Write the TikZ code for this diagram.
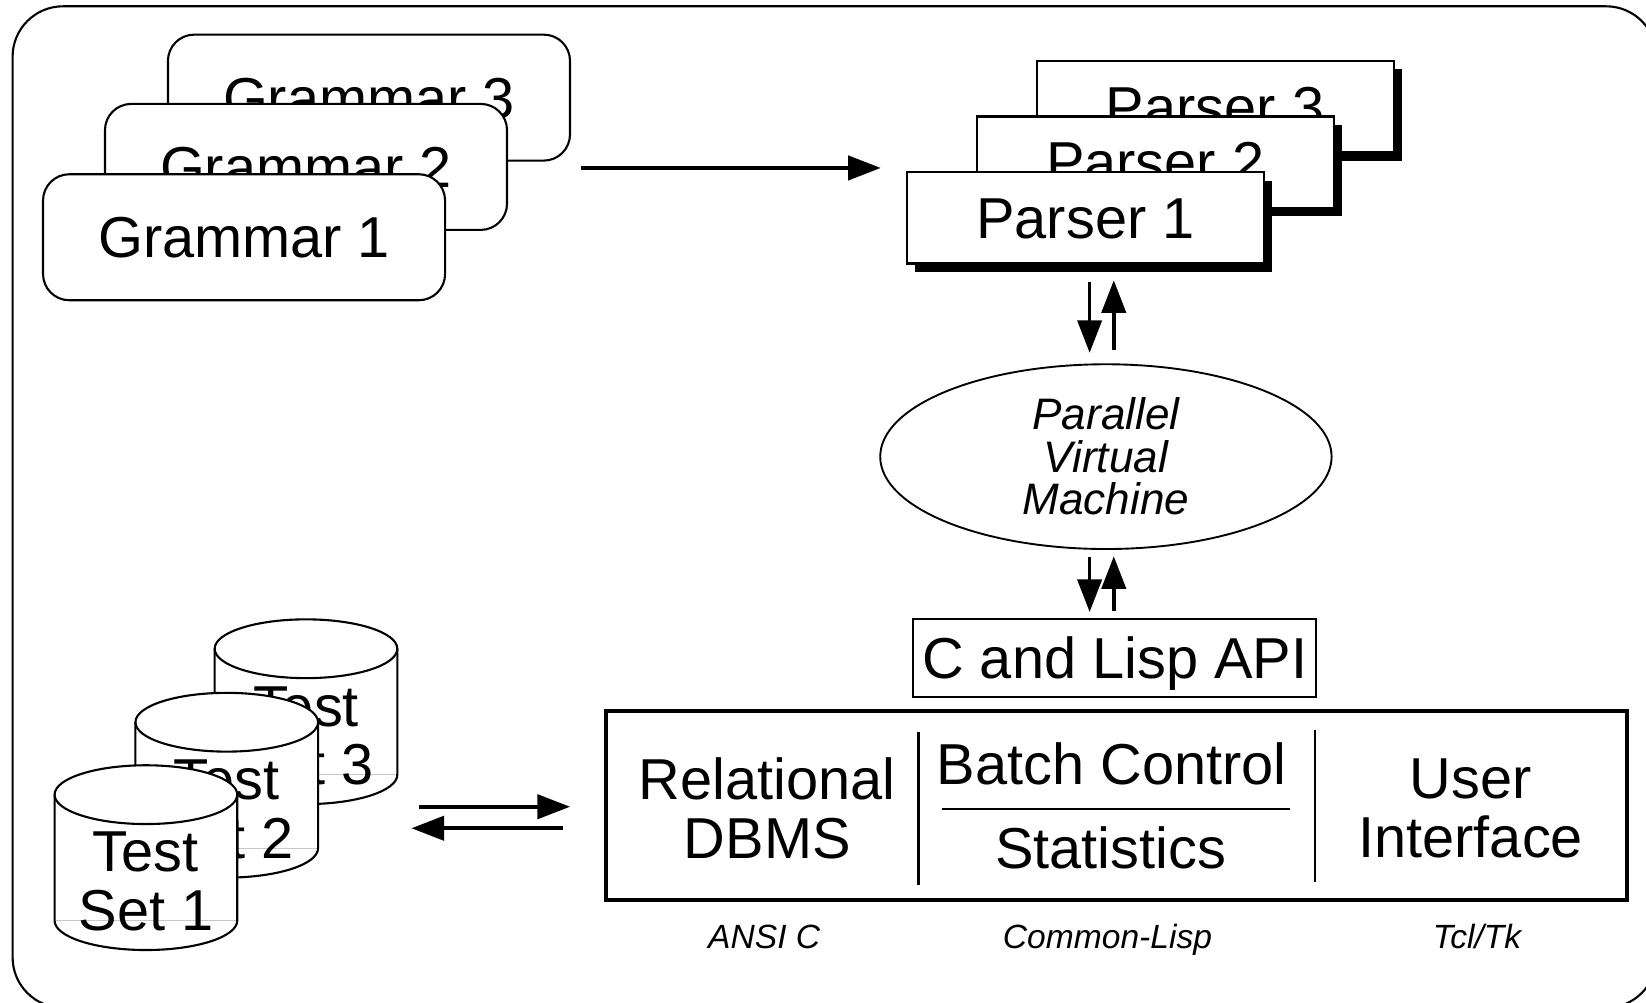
\documentclass[tikz,border=0pt]{standalone}
\usepackage{fontspec}
\setmainfont{Liberation Sans}
\usetikzlibrary{arrows.meta,shapes.geometric,shadows,calc}

% cylinder for a test set: #1 name, #2 centre x, #3 centre y of the top cap, #4 label
\newcommand\testcyl[4]{%
  \fill[white] (#2-87,#3) -- (#2-87,#3+120)
    arc[start angle=180,end angle=360,x radius=87pt,y radius=28pt]
    -- (#2+87,#3)
    arc[start angle=0,end angle=180,x radius=87pt,y radius=28pt] -- cycle;
  \draw[cylhidden] (#2-87,#3+120) -- (#2+87,#3+120);
  \draw[cyledge] (#2-87,#3) -- (#2-87,#3+120)
    arc[start angle=180,end angle=360,x radius=87pt,y radius=28pt]
    -- (#2+87,#3);
  \draw[cyledge] (#2,#3) ellipse [x radius=87pt,y radius=28pt];
  \node[bigtext,align=center,inner sep=0pt] (#1) at (#2,#3+83) {#4};
}

\begin{document}
\begin{tikzpicture}[x=1pt,y=-1pt,
  bigtext/.style={font=\fontsize{55}{56}\selectfont},
  captext/.style={bigtext,text height=39.4pt,text depth=0pt,inner sep=0pt},
  capbox/.style={captext,draw,line width=2pt,fill=white},
  gbox/.style={capbox,rounded corners=25pt,minimum width=383pt,minimum height=120pt},
  pbox/.style={capbox,minimum width=340pt,minimum height=87pt,
    drop shadow={shadow xshift=8pt,shadow yshift=-8pt,fill=black,opacity=1}},
  link/.style={line width=3.5pt,-{Triangle[length=31pt,width=23pt]}},
  cyledge/.style={line width=2pt},
  cylhidden/.style={line width=1pt,black!22},
  lang/.style={font=\fontsize{32}{34}\selectfont\itshape,anchor=base,inner sep=0pt},
]
\useasboundingbox (0,0) rectangle (1568,955);

% outer frame
\draw[line width=2pt,rounded corners=48pt] (12,6) rectangle (1578,960);

% grammars, back to front
\node[gbox] (g3) at (351.5,93) {Grammar 3};
\node[gbox] (g2) at (291.5,159) {Grammar 2};
\node[gbox] (g1) at (232.5,226) {Grammar 1};

% parsers, back to front
\node[pbox] (p3) at (1157.5,101.5) {Parser 3};
\node[pbox] (p2) at (1100.5,154.5) {Parser 2};
\node[pbox] (p1) at (1034,207.5) {Parser 1};

% grammars feed the parsers
\coordinate (gout) at ($(g2.east)+(69,1)$);
\coordinate (pin) at ($(p1.west)+(-24,-47.5)$);
\draw[link] (gout) -- (pin);

% parallel virtual machine
\node[ellipse,draw,line width=1.8pt,minimum width=430pt,minimum height=176pt,
  inner sep=0pt,align=center,font=\fontsize{42}{40.5}\selectfont\itshape]
  (pvm) at (1053.5,435) {Parallel\\Virtual\\Machine};

\draw[link] ($(p1.south)+(4,17)$) -- ($(pvm.north)+(-15.5,-10)$);
\draw[link] ($(pvm.north)+(7.5,-13)$) -- ($(p1.south)+(27,15)$);

% API
\node[capbox,minimum width=384pt,minimum height=74pt] (api) at (1062,627) {C and Lisp API};

\draw[link] ($(pvm.south)+(-15.5,7)$) -- ($(api.north)+(-24,-6)$);
\draw[link] ($(api.north)+(-1,-7)$) -- ($(pvm.south)+(7.5,6)$);

% system components
\node[draw,line width=4pt,minimum width=973pt,minimum height=180pt,inner sep=0pt]
  (sys) at (1063.5,767) {};
\draw[line width=2pt] (875,697) -- (875,843);
\draw[line width=2pt] (1253,695) -- (1253,840);
\draw[line width=2pt] (897,771) -- (1229,771);

\node[bigtext,align=center,inner sep=0pt] (rdb) at (731,770) {Relational\\DBMS};
\node[captext] (batch) at (1059,728) {Batch Control};
\node[captext] (stats) at (1058,808) {Statistics};
\node[bigtext,align=center,inner sep=0pt] (ui) at (1401,770) {User\\Interface};

\node[lang] (ansi) at (728,903.5) {ANSI C};
\node[lang] (lisp) at (1055,903.5) {Common-Lisp};
\node[lang] (tcl) at (1407,903.5) {Tcl/Tk};

% test sets, back to front
\testcyl{t3}{291.5}{618}{Test\\Set 3}
\testcyl{t2}{216}{688}{Test\\Set 2}
\testcyl{t1}{139}{757}{Test\\Set 1}

% exchange between test sets and the system
\coordinate (tout) at ($(sys.west)+(-176,1.5)$);
\coordinate (sin) at ($(sys.west)+(-32,1.5)$);
\coordinate (sout) at ($(sys.west)+(-39,22)$);
\coordinate (tin) at ($(sys.west)+(-183,22)$);
\draw[link] (tout) -- (sin);
\draw[link] (sout) -- (tin);
\end{tikzpicture}
\end{document}
